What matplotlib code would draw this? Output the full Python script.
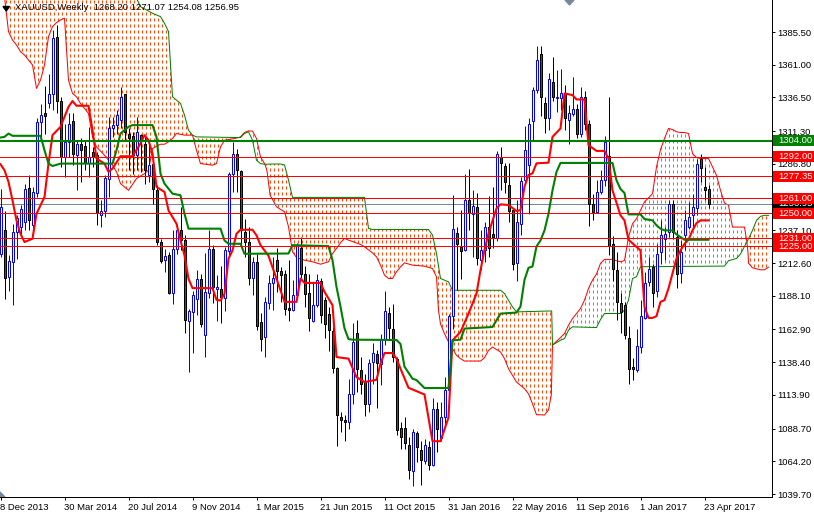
import matplotlib
matplotlib.use('Agg')
import matplotlib.pyplot as plt
import numpy as np
from matplotlib.patches import Polygon, Rectangle
from matplotlib.transforms import blended_transform_factory

plt.rcParams['font.family'] = ['Liberation Sans', 'DejaVu Sans']

opens = [1219.5, 1237.5, 1202.0, 1213.3, 1235.8, 1239.5, 1243.3, 1269.0, 1240.8, 1265.0,
         1318.3, 1324.5, 1332.0, 1339.0, 1381.5, 1334.0, 1292.0, 1303.3, 1318.8, 1293.3,
         1302.0, 1300.0, 1287.5, 1295.8, 1293.3, 1248.3, 1251.5, 1275.8, 1313.3, 1315.8,
         1319.5, 1338.8, 1309.5, 1307.5, 1293.3, 1308.3, 1302.0, 1278.3, 1287.0, 1267.5,
         1228.3, 1214.5, 1218.3, 1190.0, 1223.3, 1237.0, 1229.5, 1169.0, 1175.8, 1185.8,
         1200.8, 1158.8, 1190.3, 1223.3, 1193.3, 1193.3, 1186.3, 1221.5, 1279.5, 1294.0,
         1281.3, 1235.8, 1228.3, 1201.5, 1213.3, 1168.8, 1157.0, 1182.8, 1197.7, 1214.7,
         1206.5, 1204.0, 1179.2, 1177.2, 1188.5, 1223.5, 1204.7, 1190.5, 1169.0, 1181.0,
         1199.2, 1184.7, 1174.7, 1161.5, 1134.2, 1097.2, 1095.2, 1093.5, 1114.7, 1160.5,
         1132.7, 1123.5, 1107.2, 1138.5, 1144.7, 1137.2, 1156.0, 1175.5, 1163.5, 1141.0,
         1089.2, 1089.2, 1076.7, 1056.7, 1085.5, 1072.7, 1064.7, 1074.7, 1061.7, 1103.5,
         1081.7, 1097.2, 1117.7, 1173.0, 1234.7, 1224.7, 1222.2, 1259.7, 1249.2, 1254.7,
         1215.2, 1222.2, 1239.7, 1234.0, 1231.0, 1291.7, 1285.2, 1271.0, 1252.2, 1212.5,
         1241.5, 1274.5, 1285.8, 1319.0, 1342.0, 1369.0, 1332.0, 1321.5, 1347.8, 1335.8,
         1336.3, 1339.5, 1320.0, 1323.8, 1327.5, 1309.5, 1336.5, 1317.0, 1256.5, 1250.8,
         1265.8, 1275.0, 1292.5, 1227.0, 1207.3, 1182.3, 1181.0, 1156.8, 1135.0, 1132.8,
         1149.8, 1171.5, 1198.5, 1209.3, 1191.8, 1220.8, 1230.8, 1235.8, 1257.0, 1232.0,
         1204.8, 1233.3, 1239.5, 1248.3, 1254.0, 1290.8, 1269.5, 1268.2]
highs = [1267.8, 1251.5, 1218.3, 1242.0, 1248.3, 1255.8, 1272.0, 1278.3, 1269.5, 1320.8,
         1331.5, 1345.0, 1354.0, 1387.0, 1390.8, 1337.0, 1317.0, 1324.5, 1324.5, 1304.5,
         1305.8, 1304.5, 1314.5, 1299.5, 1295.8, 1259.5, 1278.3, 1322.0, 1322.0, 1327.0,
         1344.5, 1338.8, 1313.3, 1310.8, 1322.0, 1309.5, 1307.0, 1302.0, 1289.5, 1270.8,
         1230.8, 1223.3, 1220.8, 1237.0, 1242.0, 1254.5, 1233.3, 1178.3, 1192.0, 1207.0,
         1204.0, 1220.3, 1237.0, 1225.8, 1203.3, 1210.0, 1224.5, 1280.8, 1303.3, 1298.3,
         1282.0, 1245.3, 1239.5, 1217.0, 1219.5, 1175.0, 1187.5, 1203.3, 1217.2, 1223.5,
         1209.7, 1207.7, 1214.7, 1199.7, 1227.2, 1231.7, 1210.2, 1204.2, 1198.5, 1204.7,
         1201.0, 1187.2, 1179.7, 1164.7, 1134.7, 1101.0, 1098.5, 1126.0, 1167.7, 1169.7,
         1142.2, 1129.7, 1141.0, 1152.7, 1147.7, 1159.2, 1191.5, 1179.7, 1182.2, 1142.2,
         1093.5, 1097.7, 1082.2, 1088.5, 1086.5, 1079.2, 1081.0, 1079.7, 1111.7, 1108.5,
         1108.5, 1127.2, 1174.7, 1263.5, 1239.2, 1252.2, 1279.2, 1282.7, 1267.2, 1264.7,
         1237.2, 1243.5, 1262.7, 1269.7, 1296.7, 1299.7, 1287.2, 1287.7, 1253.5, 1259.5,
         1277.0, 1315.0, 1320.8, 1344.0, 1375.0, 1375.0, 1337.0, 1355.0, 1366.5, 1357.0,
         1357.5, 1345.8, 1330.8, 1352.0, 1331.5, 1344.0, 1341.5, 1319.5, 1264.5, 1274.5,
         1282.5, 1307.5, 1337.0, 1232.5, 1221.0, 1189.8, 1183.5, 1165.3, 1141.8, 1163.0,
         1184.8, 1206.0, 1217.0, 1212.0, 1227.0, 1244.5, 1239.5, 1259.5, 1259.5, 1237.0,
         1230.0, 1252.0, 1258.3, 1264.5, 1290.8, 1294.5, 1284.5, 1271.07]
lows = [1217.0, 1185.8, 1191.3, 1181.5, 1215.8, 1234.5, 1237.0, 1237.0, 1234.5, 1262.0,
        1304.5, 1309.5, 1328.3, 1327.0, 1324.5, 1284.5, 1277.0, 1292.0, 1285.8, 1267.0,
        1273.3, 1282.0, 1277.0, 1284.5, 1240.8, 1239.5, 1247.0, 1262.0, 1307.0, 1309.5,
        1313.3, 1304.5, 1282.0, 1279.5, 1282.0, 1280.8, 1272.0, 1273.3, 1257.0, 1225.8,
        1212.5, 1205.8, 1189.3, 1182.0, 1219.5, 1222.0, 1160.0, 1130.8, 1145.0, 1174.0,
        1164.5, 1142.0, 1186.3, 1182.5, 1169.5, 1167.5, 1177.0, 1217.0, 1265.8, 1265.8,
        1225.8, 1217.0, 1196.5, 1189.0, 1162.8, 1146.5, 1142.0, 1178.3, 1177.2, 1191.0,
        1183.5, 1173.5, 1169.2, 1176.7, 1187.2, 1201.0, 1179.7, 1161.7, 1168.5, 1179.7,
        1167.7, 1156.2, 1146.7, 1130.2, 1076.0, 1086.0, 1079.7, 1088.5, 1107.2, 1116.0,
        1114.7, 1098.0, 1101.0, 1122.2, 1104.0, 1121.0, 1151.0, 1154.7, 1138.5, 1084.2,
        1073.5, 1073.5, 1051.0, 1045.5, 1063.5, 1046.7, 1062.2, 1057.7, 1061.0, 1071.0,
        1079.7, 1089.7, 1103.5, 1163.5, 1192.2, 1200.7, 1221.7, 1237.2, 1217.2, 1211.0,
        1207.2, 1213.5, 1217.2, 1223.5, 1229.2, 1267.2, 1265.2, 1243.5, 1207.2, 1199.0,
        1233.3, 1272.0, 1249.5, 1304.5, 1339.5, 1322.5, 1310.0, 1312.0, 1334.0, 1325.8,
        1327.0, 1312.5, 1302.0, 1322.5, 1305.8, 1307.0, 1312.0, 1240.0, 1245.0, 1250.0,
        1264.5, 1270.0, 1218.3, 1199.5, 1170.3, 1160.3, 1155.5, 1121.8, 1124.8, 1131.0,
        1145.3, 1171.0, 1195.3, 1179.8, 1187.3, 1212.0, 1214.5, 1232.0, 1230.8, 1194.0,
        1197.3, 1222.0, 1238.3, 1239.5, 1248.3, 1273.3, 1259.5, 1254.08]
closes = [1254.5, 1201.3, 1213.8, 1235.8, 1246.5, 1253.3, 1268.3, 1244.5, 1265.8, 1318.3,
          1323.3, 1322.8, 1339.0, 1380.8, 1334.0, 1292.0, 1303.3, 1317.0, 1294.5, 1302.0,
          1297.5, 1287.5, 1292.0, 1292.0, 1250.3, 1251.5, 1276.3, 1313.3, 1315.8, 1323.3,
          1337.0, 1310.8, 1306.5, 1293.3, 1310.8, 1304.5, 1282.0, 1285.8, 1268.3, 1228.3,
          1213.8, 1217.5, 1190.0, 1223.3, 1237.0, 1229.5, 1170.0, 1176.3, 1188.3, 1200.8,
          1167.0, 1190.8, 1223.3, 1194.5, 1195.0, 1187.0, 1222.0, 1279.0, 1294.0, 1282.0,
          1237.0, 1228.3, 1201.5, 1213.3, 1165.8, 1155.8, 1183.3, 1197.8, 1201.7, 1206.7,
          1203.5, 1178.2, 1177.2, 1188.5, 1226.0, 1204.2, 1189.7, 1171.7, 1181.0, 1200.2,
          1174.0, 1167.2, 1162.7, 1134.0, 1098.5, 1095.2, 1093.5, 1114.7, 1153.5, 1133.5,
          1122.2, 1106.7, 1138.0, 1145.5, 1138.0, 1156.0, 1176.7, 1164.0, 1142.2, 1087.7,
          1082.7, 1077.7, 1057.7, 1086.0, 1075.2, 1065.2, 1076.5, 1061.7, 1103.0, 1088.5,
          1097.2, 1117.7, 1173.0, 1237.7, 1226.7, 1221.7, 1259.7, 1249.7, 1255.2, 1216.7,
          1222.2, 1239.7, 1223.5, 1231.7, 1294.2, 1287.7, 1272.9, 1251.7, 1211.7, 1243.3,
          1274.0, 1297.5, 1317.0, 1342.0, 1364.5, 1337.0, 1321.5, 1350.0, 1336.5, 1337.0,
          1339.5, 1321.5, 1324.5, 1327.8, 1309.0, 1337.0, 1316.5, 1256.5, 1250.8, 1265.8,
          1275.0, 1303.3, 1225.0, 1208.3, 1183.5, 1176.0, 1159.0, 1133.5, 1133.5, 1150.5,
          1172.8, 1197.3, 1207.8, 1190.3, 1219.0, 1233.3, 1234.5, 1256.5, 1235.8, 1204.0,
          1220.8, 1244.5, 1247.0, 1254.5, 1287.0, 1284.0, 1267.5, 1256.95]

# tenkan and kijun, read at the bars where the line bends
tenkan_x = [0, 1, 2, 3, 4, 5, 6, 8, 9, 11, 12, 13, 15, 17, 18, 19, 22, 23, 24, 26, 27, 28, 30, 33, 35, 36, 37, 38,
            39, 41, 42, 44, 45, 46, 47, 48, 53, 54, 55, 56, 57, 58, 59, 60, 63, 64, 65, 67, 70, 71, 74, 75, 76, 80,
            81, 83, 84, 87, 89, 91, 94, 95, 96, 98, 99, 100, 102, 106, 108, 110, 112, 113, 115, 117, 119, 120, 121,
            122, 124, 125, 127, 129, 130, 131, 132, 133, 134, 137, 138, 140, 141, 143, 144, 146, 147, 149, 151, 152,
            153, 155, 156, 157, 160, 161, 162, 163, 164, 165, 166, 167, 168, 169, 170, 171, 172, 173, 174, 175, 177]
tenkan_y = [1286.5, 1282.0, 1273.3, 1259.5, 1244.5, 1234.5, 1228.3, 1230.8, 1249.5, 1262.0, 1287.0, 1308.3, 1314.5,
            1329.5, 1333.8, 1330.3, 1330.3, 1312.0, 1290.8, 1287.0, 1280.8, 1283.3, 1292.5, 1292.5, 1302.0, 1308.3,
            1304.5, 1294.5, 1269.5, 1265.8, 1252.0, 1242.0, 1229.5, 1218.3, 1200.8, 1193.8, 1193.8, 1185.0, 1184.5,
            1189.5, 1215.8, 1222.0, 1234.5, 1237.5, 1237.5, 1233.3, 1226.0, 1218.0, 1192.2, 1183.5, 1183.5, 1201.0,
            1197.7, 1197.7, 1191.0, 1181.0, 1142.2, 1141.0, 1127.2, 1123.5, 1125.2, 1137.2, 1145.2, 1145.2, 1141.0,
            1133.5, 1119.2, 1114.2, 1079.2, 1079.2, 1097.0, 1154.7, 1161.0, 1174.7, 1189.7, 1207.2, 1222.2, 1234.7,
            1253.5, 1256.5, 1256.0, 1251.5, 1252.2, 1269.7, 1278.5, 1279.7, 1287.2, 1287.7, 1307.0, 1313.3, 1339.5,
            1338.3, 1335.0, 1335.0, 1300.8, 1296.5, 1296.5, 1290.8, 1267.0, 1248.3, 1244.5, 1230.0, 1222.0, 1179.8,
            1171.5, 1171.5, 1172.8, 1183.5, 1184.8, 1193.5, 1204.8, 1216.0, 1222.0, 1227.0, 1230.0, 1237.0, 1242.5,
            1244.5, 1244.5]
kijun_x = [0, 1, 2, 3, 10, 11, 12, 13, 15, 28, 29, 30, 32, 33, 38, 39, 40, 41, 43, 45, 46, 47, 55, 56, 57, 60, 61,
           72, 73, 82, 83, 84, 85, 86, 87, 88, 99, 100, 101, 103, 104, 105, 106, 112, 113, 115, 116, 123, 125, 129,
           130, 131, 132, 133, 134, 135, 136, 137, 138, 139, 140, 153, 154, 155, 156, 157, 160, 161, 163, 164, 165,
           166, 168, 169, 170, 171, 177]
kijun_y = [1306.5, 1307.0, 1309.5, 1307.8, 1307.8, 1297.0, 1287.0, 1285.2, 1287.0, 1287.0, 1297.0, 1309.5, 1314.5,
           1315.8, 1315.8, 1307.0, 1279.5, 1272.0, 1264.5, 1263.3, 1249.5, 1238.3, 1238.3, 1229.5, 1227.0, 1227.0,
           1219.5, 1219.7, 1226.0, 1225.2, 1214.7, 1194.7, 1180.0, 1163.7, 1155.7, 1155.2, 1155.0, 1152.0, 1135.0,
           1126.0, 1125.0, 1122.0, 1119.0, 1119.0, 1154.7, 1155.2, 1163.5, 1164.7, 1174.7, 1175.5, 1180.0, 1200.0,
           1209.0, 1210.0, 1225.0, 1229.5, 1237.0, 1249.5, 1267.0, 1280.8, 1287.5, 1287.5, 1274.5, 1268.0, 1265.0,
           1249.0, 1249.0, 1245.5, 1244.5, 1240.8, 1238.3, 1237.0, 1237.0, 1234.0, 1232.0, 1230.0, 1230.0]

# senkou spans, the four crossings appear in both lists
span_a_x = [1, 2, 3, 4, 5, 6, 7, 8, 9, 10, 11, 12, 13, 14, 15, 16, 17, 18, 19, 20, 21, 22, 23, 24, 26, 27, 28, 29, 30,
            32, 34, 36, 37, 38, 40, 41, 42, 43, 44, 46, 48, 49, 50, 53, 54, 55, 56, 58, 59.5, 60, 61, 62, 63, 64, 65,
            66.1, 66.6, 67, 67.4, 69, 70, 71, 72, 73, 74, 76, 78, 80, 82, 83, 84, 85, 86, 87, 90, 91, 93, 94, 95, 96,
            97, 98, 99, 100, 101, 103, 106, 108, 109, 109.5, 110, 111, 112, 113, 114, 115, 116, 120, 121, 122, 123,
            125, 126, 127, 129, 130, 131, 132, 133, 134, 135, 136, 137, 137.7, 138, 140, 141, 142, 143, 144, 145, 146,
            147, 148, 149, 150, 151, 153, 154, 155, 156, 157, 158, 159, 160, 161, 162, 163, 164, 165, 166, 167, 168,
            169, 170, 171, 172, 173, 174, 175, 177, 178, 179, 180, 181, 182, 183, 186, 186.6, 186.9, 187, 188, 190,
            191, 192]
span_a_y = [1412.0, 1385.8, 1379.5, 1375.8, 1370.8, 1368.3, 1364.5, 1360.8, 1343.3, 1349.5, 1360.8, 1382.0, 1389.5,
            1392.5, 1394.5, 1395.8, 1349.5, 1339.5, 1337.0, 1332.0, 1328.3, 1324.5, 1307.0, 1299.5, 1293.3, 1289.5,
            1285.8, 1280.8, 1272.0, 1267.0, 1275.8, 1279.5, 1282.0, 1298.3, 1301.5, 1301.5, 1303.3, 1305.8, 1309.5,
            1308.3, 1308.3, 1297.0, 1287.0, 1285.8, 1287.0, 1299.5, 1304.5, 1305.5, 1306.5, 1307.0, 1310.3, 1311.5,
            1311.3, 1305.8, 1292.0, 1286.5, 1282.0, 1273.0, 1263.4, 1254.7, 1252.7, 1251.0, 1239.7, 1221.0, 1216.7,
            1214.7, 1213.5, 1211.7, 1213.5, 1219.7, 1223.5, 1227.7, 1231.0, 1229.7, 1226.5, 1224.7, 1220.2, 1217.2,
            1211.0, 1203.5, 1201.0, 1201.0, 1206.0, 1209.7, 1212.7, 1211.0, 1210.2, 1208.5, 1202.2, 1177.2, 1167.0,
            1159.7, 1153.5, 1148.5, 1143.5, 1141.0, 1139.2, 1139.2, 1141.7, 1147.2, 1149.7, 1146.0, 1141.0, 1133.5,
            1123.5, 1121.0, 1118.5, 1114.7, 1107.2, 1099.0, 1099.0, 1098.8, 1102.6, 1113.8, 1151.2, 1156.8, 1159.8,
            1166.0, 1171.0, 1174.8, 1178.5, 1184.8, 1193.5, 1199.8, 1204.3, 1212.3, 1215.3, 1215.3, 1214.3, 1213.5,
            1214.5, 1232.0, 1242.0, 1245.8, 1252.0, 1258.3, 1261.3, 1264.5, 1284.5, 1297.5, 1305.8, 1313.3, 1312.5,
            1310.8, 1310.3, 1310.3, 1309.5, 1294.5, 1291.5, 1290.8, 1290.8, 1284.5, 1278.3, 1267.0, 1257.5, 1255.8,
            1239.5, 1239.5, 1228.3, 1219.5, 1212.5, 1209.0, 1207.5, 1207.5, 1209.5]
span_b_x = [0, 34, 35, 38, 40, 41, 42, 43, 44, 45, 46, 47, 48, 49, 59.5, 60, 61, 62, 63, 64, 65, 66.1, 68, 70, 71, 72,
            73, 91, 92, 93, 107, 108, 109, 110, 112, 113, 125, 126, 128, 129, 135, 137.8, 138, 140, 141, 142, 143, 149,
            150, 151, 155, 156, 157, 158, 159, 160, 181, 182, 184, 185, 186, 186.6, 187, 188, 189, 190, 191, 192]
span_b_y = [1424.5, 1410.8, 1404.5, 1399.5, 1397.0, 1392.0, 1385.8, 1337.0, 1334.5, 1332.0, 1323.3, 1312.0, 1308.3,
            1307.0, 1306.5, 1306.5, 1309.5, 1310.8, 1304.5, 1289.5, 1287.0, 1286.5, 1286.7, 1286.7, 1286.0, 1274.7,
            1261.7, 1261.7, 1238.5, 1237.7, 1237.7, 1233.5, 1219.7, 1201.0, 1198.5, 1192.2, 1192.2, 1189.7, 1179.7,
            1176.0, 1176.5, 1176.7, 1151.2, 1154.8, 1156.0, 1162.3, 1164.8, 1164.3, 1170.3, 1174.8, 1174.8, 1177.3,
            1184.8, 1201.0, 1202.3, 1209.8, 1210.3, 1214.3, 1216.0, 1219.3, 1225.0, 1228.3, 1230.8, 1237.0, 1244.5,
            1247.5, 1248.3, 1248.3]
crossings = [59.5, 66.1, 138, 186.6]

levels_green = [1304.00]
levels_red = [1292.00, 1277.35, 1261.00, 1250.00, 1231.00, 1225.00]
current_price = 1256.95
price_ticks = [1385.50, 1361.00, 1336.50, 1311.30, 1286.80, 1237.10, 1212.60, 1188.10, 1162.90, 1138.40, 1113.90,
               1088.70, 1064.20, 1039.70]
date_ticks = [0, 16, 32, 48, 64, 80, 96, 112, 128, 144, 160, 176]
date_labels = ['8 Dec 2013', '30 Mar 2014', '20 Jul 2014', '9 Nov 2014', '1 Mar 2015', '21 Jun 2015', '11 Oct 2015',
               '31 Jan 2016', '22 May 2016', '11 Sep 2016', '1 Jan 2017', '23 Apr 2017']

PX = 0.72  # one pixel in points at dpi 100
W, H = 814, 514
AX_W, AX_H = 772, 497
FONT = 6.8
ORANGE = '#ff4500'
SEA_GREEN = '#3cb371'

fig = plt.figure(figsize=(W / 100, H / 100), dpi=100, facecolor='white')
ax = fig.add_axes([0, (H - AX_H) / H, AX_W / W, AX_H / H])
price_per_px = (1385.5 - 1039.7) / 462
y_bottom = 1039.7 - 3 * price_per_px
y_top = 1039.7 + 494 * price_per_px
ax.set_xlim(-0.125, 192.875)
ax.set_ylim(y_bottom, y_top)


def span_slice(xs, ys, start, stop):
    return [(x, y) for x, y in zip(xs, ys) if start <= x <= stop]


def add_cloud(upper, lower, first, last, color):
    # dotted columns clipped by the polygon between the two spans
    outline = span_slice(*upper, first, last) + span_slice(*lower, first, last)[::-1]
    poly = Polygon(outline, closed=True, fill=False, edgecolor='none', transform=ax.transData)
    ax.add_patch(poly)
    # orange columns sit one pixel right of the bars, green ones on the bars
    shift, start = (0.25, y_top) if color == ORANGE else (0, y_top - 2 * price_per_px)
    for col in range(int(first) - 1, int(last) + 2):
        line, = ax.plot([col + shift, col + shift], [start, y_bottom], color=color, lw=PX, ls=(0, (3, 3)),
                        dash_capstyle='butt', zorder=1, scalex=False, scaley=False)
        line.set_clip_path(poly)


a = (span_a_x, span_a_y)
b = (span_b_x, span_b_y)
add_cloud(b, a, 0, crossings[0], ORANGE)
add_cloud(a, b, crossings[0], crossings[1], SEA_GREEN)
add_cloud(b, a, crossings[1], crossings[2], ORANGE)
add_cloud(a, b, crossings[2], crossings[3], SEA_GREEN)
add_cloud(b, a, crossings[3], 192, ORANGE)
ax.plot(span_a_x, span_a_y, color='#ff0000', lw=PX, zorder=1.5)
ax.plot(span_b_x, span_b_y, color='#008000', lw=PX, zorder=1.5)

# candles
bars = np.arange(len(opens))
opens_a, closes_a = np.array(opens), np.array(closes)
up = closes_a >= opens_a
ax.vlines(bars[up], np.array(lows)[up], np.array(highs)[up], colors='#0000ff', linewidths=PX, zorder=3)
ax.vlines(bars[~up], np.array(lows)[~up], np.array(highs)[~up], colors='black', linewidths=PX, zorder=3)
ax.bar(bars[up], (closes_a - opens_a)[up], bottom=opens_a[up], width=0.5, facecolor='white', edgecolor='#0000ff',
       linewidth=PX, zorder=3.1)
ax.bar(bars[~up], (opens_a - closes_a)[~up], bottom=closes_a[~up], width=0.5, facecolor='#ff0000', edgecolor='black',
       linewidth=PX, zorder=3.1)

ax.plot(tenkan_x, tenkan_y, color='#ff0000', lw=1.5, zorder=4, solid_joinstyle='round')
ax.plot(kijun_x, kijun_y, color='#008000', lw=1.5, zorder=4, solid_joinstyle='round')

# horizontal levels and their price boxes
ax.axhline(current_price, color='#778899', lw=PX, zorder=2)
for level in levels_red:
    ax.axhline(level, color='#ff0000', lw=PX, zorder=5)
for level in levels_green:
    ax.axhline(level, color='#008000', lw=1.5, zorder=5)

box_trans = blended_transform_factory(ax.transAxes, ax.transData)


def price_box(value, color, z):
    ax.add_patch(Rectangle((773 / AX_W, value - 5.5 * price_per_px), 41 / AX_W, 11 * price_per_px, facecolor=color,
                           edgecolor='none', transform=box_trans, clip_on=False, zorder=z))
    ax.text(778 / AX_W, value, f'{value:.2f}', color='white', fontsize=FONT, va='center', ha='left',
            transform=box_trans, clip_on=False, zorder=z + 0.1)


price_box(current_price, 'black', 6)
for n, level in enumerate(levels_red):
    price_box(level, '#ff0000', 7 + n)
price_box(levels_green[0], '#008000', 7)

# axes
for side in ['top', 'left']:
    ax.spines[side].set_visible(False)
for side in ['right', 'bottom']:
    ax.spines[side].set_linewidth(PX)
ax.yaxis.tick_right()
ax.set_yticks(price_ticks, [f'{p:.2f}' for p in price_ticks])
ax.set_xticks(date_ticks, date_labels, ha='left')
ax.tick_params(axis='y', length=3 * PX, width=PX, labelsize=FONT, pad=2, colors='black')
ax.tick_params(axis='x', length=3 * PX, width=PX, labelsize=FONT, pad=2, colors='black')

# header and the small chart markers
ax.text(15 / AX_W, 1 - 8 / AX_H, 'XAUUSD,Weekly  1268.20 1271.07 1254.08 1256.95', transform=ax.transAxes,
        fontsize=FONT, va='center', ha='left', color='black', zorder=8)
ax.fill([3 / AX_W, 9.5 / AX_W, 6.25 / AX_W], [1 - 6.5 / AX_H, 1 - 6.5 / AX_H, 1 - 11 / AX_H], color='black',
        transform=ax.transAxes, zorder=8)
ax.fill([565 / AX_W, 574 / AX_W, 569.5 / AX_W], [1, 1, 1 - 5 / AX_H], color='#778899', transform=ax.transAxes,
        clip_on=False, zorder=8)
ax.fill([0, 0, 5 / AX_W], [0, 5 / AX_H, 0], color='#778899', transform=ax.transAxes, zorder=8)

fig.savefig('out.png', dpi=100)
